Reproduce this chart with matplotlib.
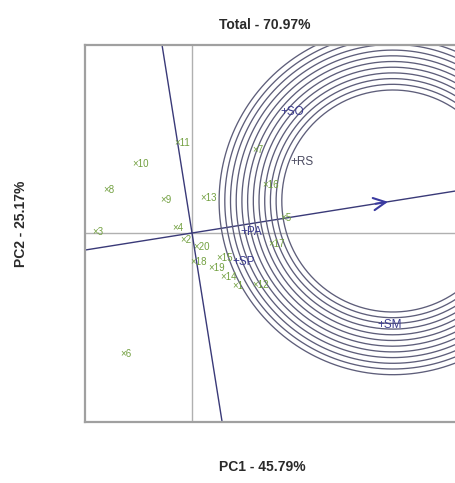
import numpy as np
import matplotlib.pyplot as plt

# GGE biplot scores (PC1, PC2)
gen_labels = ['1', '2', '3', '4', '5', '6', '7', '8', '9', '10',
              '11', '12', '13', '14', '15', '16', '17', '18', '19', '20']
gen_pc1 = [1.00, -0.28, -2.50, -0.50, 2.22, -1.80, 1.50, -2.22, -0.80, -1.48,
           -0.45, 1.50, 0.20, 0.72, 0.60, 1.75, 1.90, -0.05, 0.42, 0.03]
gen_pc2 = [-1.32, -0.18, 0.03, 0.13, 0.38, -3.03, 2.08, 1.08, 0.83, 1.73,
           2.25, -1.30, 0.88, -1.10, -0.62, 1.20, -0.28, -0.73, -0.88, -0.35]

env_labels = ['SO', 'RS', 'PA', 'SP', 'SM']
env_pc1 = [2.20, 2.45, 1.20, 1.00, 4.63]
env_pc2 = [3.03, 1.78, 0.03, -0.73, -2.30]
env_colors = ['#3c3c90', '#4a4a60', '#3c3c90', '#3c3c90', '#3c3c90']

# ideal genotype on the average environment axis
ideal = (5.02, 0.80)

fig = plt.figure(figsize=(4.55, 4.83), dpi=100)
ax = fig.add_axes([85 / 455, 1 - 422 / 483, 380 / 455, 377 / 483])
ax.set_xlim(-2.675, 6.825)
ax.set_ylim(-4.725, 4.7)
ax.set_xticks([])
ax.set_yticks([])
for s in ax.spines.values():
    s.set_color('#a0a0a0')
    s.set_linewidth(1.6)

# origin axes
ax.axhline(0, color='#b0b0b0', lw=1.0)
ax.axvline(0, color='#b0b0b0', lw=1.0)

# average environment axis and its perpendicular
ang = np.arctan2(ideal[1], ideal[0])
t = np.array([-20, 20])
ax.plot(t * np.cos(ang), t * np.sin(ang), color='#3a3a78', lw=1.0)
ax.plot(-t * np.sin(ang), t * np.cos(ang), color='#3a3a78', lw=1.0)
ax.annotate('', xy=(ideal[0] - 0.05, ideal[1] - 0.01),
            xytext=(ideal[0] - 0.5, ideal[1] - 0.08),
            arrowprops=dict(arrowstyle='->', color='#3a3aa0', lw=1.5,
                            mutation_scale=22))

# concentric circles around the ideal genotype
th = np.linspace(0, 2 * np.pi, 400)
for r in 2.775 + 0.1425 * np.arange(12):
    ax.plot(ideal[0] + r * np.cos(th), ideal[1] + r * np.sin(th),
            color='#5e5e7a', lw=0.95)

for lab, x, y in zip(gen_labels, gen_pc1, gen_pc2):
    ax.text(x, y, '\u00d7' + lab, color='#72a040', fontsize=7,
            ha='left', va='center', family='Liberation Sans')

for lab, x, y, c in zip(env_labels, env_pc1, env_pc2, env_colors):
    ax.text(x, y, '+' + lab, color=c, fontsize=8.5,
            ha='left', va='center', family='Liberation Sans')

fig.text(265 / 455, 1 - 25 / 483, 'Total - 70.97%', ha='center', va='center',
         fontsize=10, fontweight='bold', family='Liberation Sans', color='#2a2a2a')
fig.text(262 / 455, 1 - 467 / 483, 'PC1 - 45.79%', ha='center', va='center',
         fontsize=10, fontweight='bold', family='Liberation Sans', color='#2a2a2a')
fig.text(21 / 455, 1 - 224 / 483, 'PC2 - 25.17%', ha='center', va='center',
         rotation=90, fontsize=10, fontweight='bold', family='Liberation Sans',
         color='#2a2a2a')

fig.savefig('out.png', dpi=100)
